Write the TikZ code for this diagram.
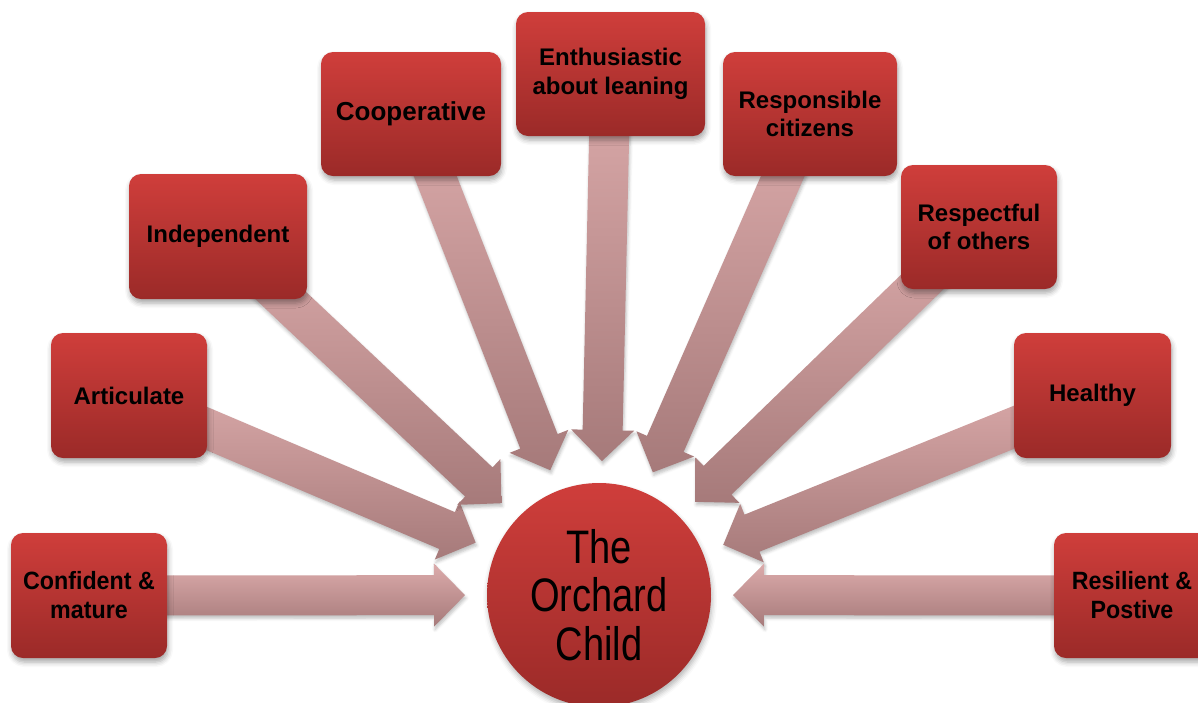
\documentclass[tikz,border=0pt]{standalone}
\usepackage{fontspec}
\setmainfont{Liberation Sans}
\newfontfamily\circlefont[FakeStretch=0.81]{Liberation Sans}
\newfontfamily\ampfont[FakeStretch=0.93]{Liberation Sans}
\usetikzlibrary{calc,shadows.blur}
\pgfdeclarelayer{bg}
\pgfsetlayers{bg,main}
\definecolor{boxtop}{HTML}{CF3E3B}
\definecolor{boxbot}{HTML}{9B2A28}
\definecolor{arrtop}{HTML}{DCABAB}
\definecolor{arrbot}{HTML}{A67A7A}
\newcommand\orcharrow[1]{%
  \coordinate (T#1) at ($(child.center)!134pt!(#1.center)$);
  \coordinate (H#1) at ($(T#1)!31pt!(#1.center)$);
  \path[arrowsty] ($(#1.center)!20pt!90:(T#1)$) -- ($(H#1)!20pt!90:(T#1)$)
    -- ($(H#1)!31.5pt!90:(T#1)$) -- (T#1) -- ($(H#1)!31.5pt!-90:(T#1)$)
    -- ($(H#1)!20pt!-90:(T#1)$) -- ($(#1.center)!20pt!-90:(T#1)$) -- cycle;
}
\begin{document}
\begin{tikzpicture}[x=1pt,y=-1pt,
  quality/.style={rounded corners=12pt, top color=boxtop, bottom color=boxbot,
    font=\bfseries\fontsize{24}{28.5}\selectfont, align=center, inner sep=0pt,
    text=black, minimum height=125pt,
    blur shadow={shadow xshift=1pt, shadow yshift=-4pt, shadow blur radius=5pt, shadow opacity=35}},
  arrowsty/.style={top color=arrtop, bottom color=arrbot,
    blur shadow={shadow xshift=1pt, shadow yshift=-3pt, shadow blur radius=3pt, shadow opacity=25}},
  centrecircle/.style={circle, minimum size=224pt, inner sep=0pt, top color=boxtop, bottom color=boxbot,
    font=\circlefont\fontsize{47}{48.5}\selectfont, align=center, text=black,
    blur shadow={shadow xshift=1pt, shadow yshift=-4pt, shadow blur radius=5pt, shadow opacity=30}}]
\useasboundingbox (0,0) rectangle (1198,702);
\node[quality, minimum width=156pt, font=\ampfont\bfseries\fontsize{25}{29}\selectfont] (conf) at (89,595.5) {Confident \&\\mature};
\node[quality, minimum width=156pt] (artic)  at (129,395.5)  {Articulate};
\node[quality, minimum width=178pt] (indep)  at (218,236.5)  {Independent};
\node[quality, minimum width=180pt, minimum height=124pt, font=\bfseries\fontsize{26}{28.5}\selectfont] (coop) at (411,114) {Cooperative};
\node[quality, minimum width=189pt, minimum height=124pt] (enth) at (610.5,74) {Enthusiastic\\about leaning};
\node[quality, minimum width=174pt, minimum height=124pt] (resp) at (810,114) {Responsible\\citizens};
\node[quality, minimum width=156pt, minimum height=124pt] (respf) at (979,227) {Respectful\\of others};
\node[quality, minimum width=157pt] (health) at (1092.5,395.5) {Healthy};
\node[quality, minimum width=156pt, font=\ampfont\bfseries\fontsize{25}{29}\selectfont] (resil) at (1132,595.5) {Resilient \&\\Postive};
\node[centrecircle] (child) at (599,595) {The\\Orchard\\Child};
\begin{pgfonlayer}{bg}
\orcharrow{conf}
\orcharrow{artic}
\orcharrow{indep}
\orcharrow{coop}
\orcharrow{enth}
\orcharrow{resp}
\orcharrow{respf}
\orcharrow{health}
\orcharrow{resil}
\end{pgfonlayer}
\end{tikzpicture}
\end{document}
